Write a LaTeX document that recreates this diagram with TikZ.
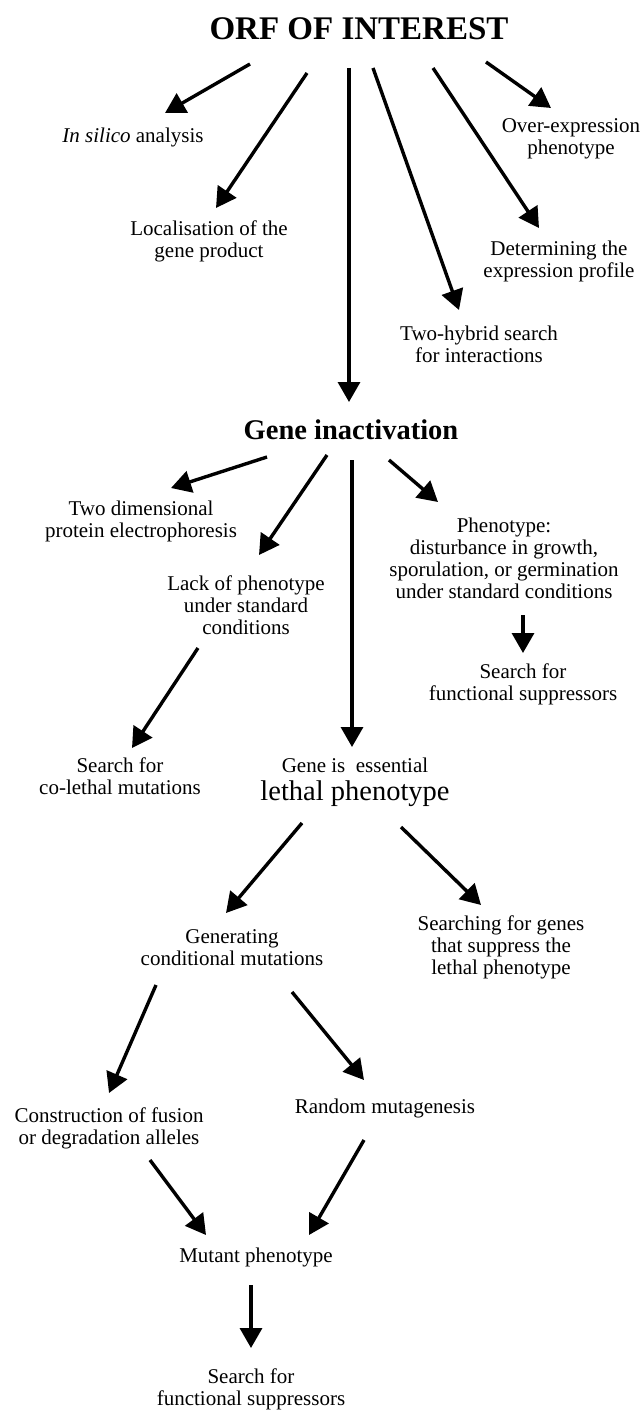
\documentclass[tikz,border=0pt]{standalone}
\usepackage{fontspec}
\setmainfont{Liberation Serif}
\usetikzlibrary{arrows.meta}
\begin{document}
\begin{tikzpicture}[x=1pt,y=-1pt,
  lbl/.style={align=center,inner sep=0pt,font=\fontsize{21}{22}\selectfont},
  bigtitle/.style={inner sep=0pt,font=\fontsize{33}{36}\selectfont\bfseries},
  midtitle/.style={inner sep=0pt,font=\fontsize{28.5}{30}\selectfont\bfseries},
  arr/.style={line width=3.4pt,-{Triangle[length=20pt,width=22pt]}}]
\useasboundingbox[fill=white] (0,0) rectangle (643,1410);

\node[bigtitle] (orf) at (359,29) {ORF OF INTEREST};
\node[lbl] (insilico) at (133,137) {\textit{In silico} analysis};
\node[lbl] (local) at (209,241) {Localisation of the\\gene product};
\node[lbl] (overexp) at (571,139) {Over-expression\\phenotype};
\node[lbl] (determ) at (559,261) {Determining the\\expression profile};
\node[lbl] (twohyb) at (479,344) {Two-hybrid search\\for interactions};

\node[midtitle] (geneinact) at (351,430) {Gene inactivation};
\node[lbl] (twodim) at (141,521) {Two dimensional\\protein electrophoresis};
\node[lbl] (lackphen) at (246,605) {Lack of phenotype\\under standard\\conditions};
\node[lbl] (phenotype) at (504,558) {Phenotype:\\disturbance in growth,\\sporulation, or germination\\under standard conditions};
\node[lbl] (search1) at (523,684) {Search for\\functional suppressors};
\node[lbl] (colethal) at (120,776) {Search for\\co-lethal mutations};
\node[lbl] (essential) at (355,782) {Gene is\ \ essential\\[6pt]{\fontsize{28.5}{30}\selectfont lethal phenotype}};

\node[lbl] (generating) at (232,948) {Generating\\conditional mutations};
\node[lbl] (searchgenes) at (501,947) {Searching for genes\\that suppress the\\lethal phenotype};
\node[lbl] (construct) at (109,1128) {Construction of fusion\\or degradation alleles};
\node[lbl] (random) at (385,1108) {Random mutagenesis};
\node[lbl] (mutant) at (256,1257) {Mutant phenotype};
\node[lbl] (search2) at (251,1389) {Search for\\functional suppressors};

% from ORF OF INTEREST
\draw[arr] ([shift={(-109,35)}]orf.center) -- ([shift={(32,-24)}]insilico.center);
\draw[arr] ([shift={(-52,44)}]orf.center) -- ([shift={(7,-33)}]local.center);
\draw[arr] ([shift={(-10,39)}]orf.center) -- ([shift={(-2,-28)}]geneinact.center);
\draw[arr] ([shift={(14,39)}]orf.center) -- ([shift={(-20,-34)}]twohyb.center);
\draw[arr] ([shift={(74,39)}]orf.center) -- ([shift={(-20,-33)}]determ.center);
\draw[arr] ([shift={(127,33)}]orf.center) -- ([shift={(-20,-31)}]overexp.center);

% from Gene inactivation
\draw[arr] ([shift={(-84,27)}]geneinact.center) -- ([shift={(30,-33)}]twodim.center);
\draw[arr] ([shift={(-24,25)}]geneinact.center) -- ([shift={(13,-50)}]lackphen.center);
\draw[arr] ([shift={(1,30)}]geneinact.center) -- ([shift={(-3,-35)}]essential.center);
\draw[arr] ([shift={(38,30)}]geneinact.center) -- ([shift={(-66,-56)}]phenotype.center);
\draw[arr] ([shift={(19,57)}]phenotype.center) -- ([shift={(0,-31)}]search1.center);
\draw[arr] ([shift={(-48,43)}]lackphen.center) -- ([shift={(12,-28)}]colethal.center);

% from lethal phenotype
\draw[arr] ([shift={(-53,41)}]essential.center) -- ([shift={(-6,-35)}]generating.center);
\draw[arr] ([shift={(46,45)}]essential.center) -- ([shift={(-20,-42)}]searchgenes.center);

% from Generating conditional mutations
\draw[arr] ([shift={(-76,37)}]generating.center) -- ([shift={(0,-35)}]construct.center);
\draw[arr] ([shift={(60,44)}]generating.center) -- ([shift={(-21,-28)}]random.center);
\draw[arr] ([shift={(41,32)}]construct.center) -- ([shift={(-50,-22)}]mutant.center);
\draw[arr] ([shift={(-21,32)}]random.center) -- ([shift={(53,-22)}]mutant.center);
\draw[arr] ([shift={(-5,28)}]mutant.center) -- ([shift={(0,-41)}]search2.center);
\end{tikzpicture}
\end{document}
